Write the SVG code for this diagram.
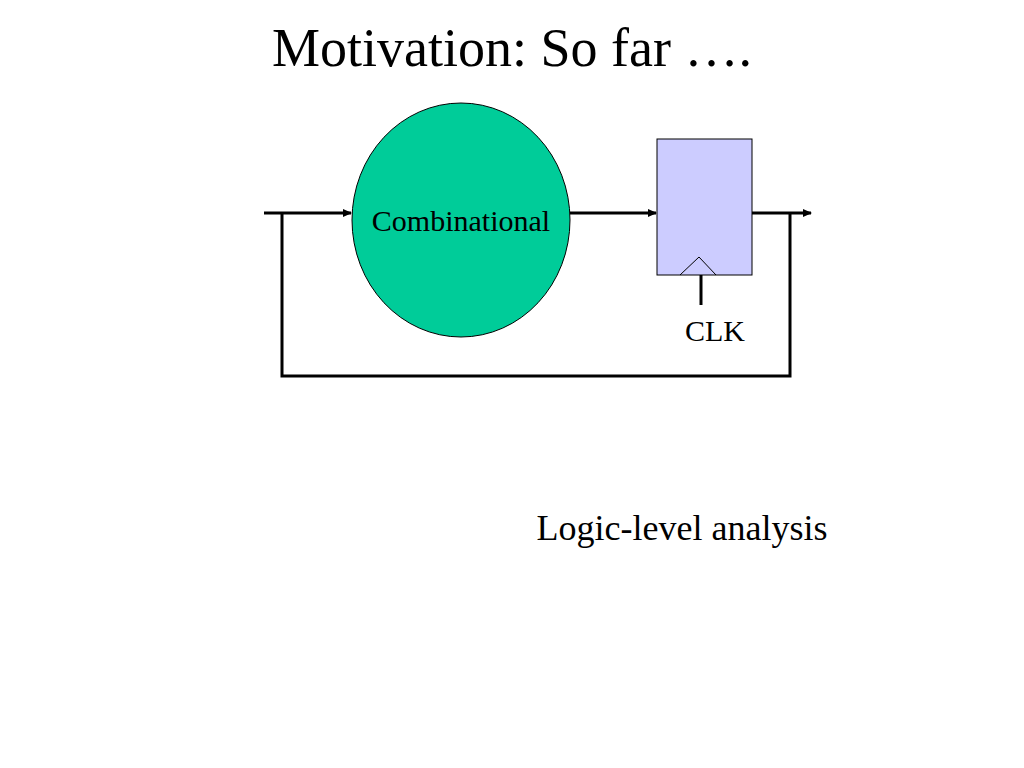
<svg xmlns="http://www.w3.org/2000/svg" width="1024" height="768" viewBox="0 0 1024 768">
<style>
.t{font-family:"Liberation Serif",serif;fill:#000}
.w{stroke:#000;stroke-width:3;fill:none}
</style>
<defs><marker id="a" markerWidth="10" markerHeight="10" refX="8" refY="5" orient="auto" markerUnits="userSpaceOnUse"><path d="M0,1 L9,5 L0,9 z" fill="#000"/></marker></defs>
<rect width="1024" height="768" fill="#fff"/>
<text class="t" x="512" y="66" font-size="54" text-anchor="middle">Motivation: So far ….</text>
<g id="connectors">
<path class="w" d="M264,213 H351" marker-end="url(#a)"/>
<path class="w" d="M570,213 H656" marker-end="url(#a)"/>
<path class="w" d="M752,213 H811" marker-end="url(#a)"/>
<path class="w" d="M282,213 V376 H790 V213"/>
<path class="w" d="M701,275 V305"/>
</g>
<g id="comb">
<ellipse cx="461" cy="220" rx="109" ry="117" fill="#00cc99" stroke="#000" stroke-width="1"/>
<text class="t" x="461" y="231" font-size="30" text-anchor="middle">Combinational</text>
</g>
<g id="reg">
<rect x="657" y="139" width="95" height="136" fill="#ccccff" stroke="#000" stroke-width="1"/>
<path d="M680,275 L699,257 L716,275" fill="none" stroke="#000" stroke-width="1"/>
</g>
<text class="t" x="715" y="341" font-size="30" text-anchor="middle">CLK</text>
<text class="t" x="682" y="540" font-size="36" text-anchor="middle">Logic-level analysis</text>
</svg>
